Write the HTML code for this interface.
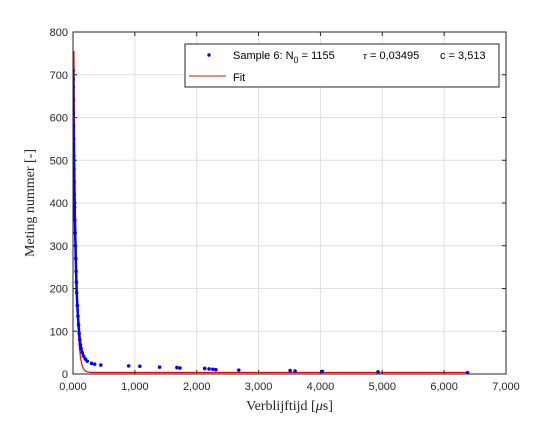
<!DOCTYPE html>
<html><head><meta charset="utf-8"><style>
body{margin:0;background:#fff;width:560px;height:420px;overflow:hidden}
svg{font-family:"Liberation Sans",sans-serif}
</style></head><body>
<svg id="chart" width="560" height="420" xmlns="http://www.w3.org/2000/svg">
<rect width="560" height="420" fill="#fff"/>
<g id="grid"></g>
<g id="series" clip-path="url(#clip)"></g>
<defs><clipPath id="clip"><rect x="73" y="32" width="433" height="342"/></clipPath></defs>
<g id="axes"></g>
<text x="289.5" y="410" text-anchor="middle" font-family="Liberation Serif,serif" font-size="14" fill="#262626">Verblijftijd [<tspan font-style="italic">μ</tspan>s]</text>
<text transform="translate(34,203) rotate(-90)" text-anchor="middle" font-family="Liberation Serif,serif" font-size="14" fill="#262626">Meting nummer [-]</text>
<g>
<rect x="185" y="44" width="314" height="43" fill="#fff" stroke="#262626" stroke-width="1"/>
<circle cx="209" cy="55" r="1.7" fill="#0000ff"/>
<text x="233" y="59" font-size="11" fill="#000">Sample 6: N<tspan dy="4" font-size="9">0</tspan><tspan dy="-4"> = 1155</tspan></text>
<text x="363" y="59" font-size="11" fill="#000"><tspan font-style="italic" font-family="Liberation Serif,serif">τ</tspan> = 0,03495</text>
<text x="440" y="59" font-size="11" fill="#000">c = 3,513</text>
<line x1="189" y1="76" x2="226" y2="76" stroke="#ff0000" stroke-width="1"/>
<text x="233" y="81" font-size="11" fill="#000">Fit</text>
</g>
</svg>
<script>
const xTicks=[0,1000,2000,3000,4000,5000,6000,7000];
const xTickLabels=["0,000","1,000","2,000","3,000","4,000","5,000","6,000","7,000"];
const yTicks=[0,100,200,300,400,500,600,700,800];
const sampleX=[2,3,4,5,6,8,10,12,15,18,20,25,30,35,40,45,50,55,60,70,80,90,100,110,120,130,150,170,200,230,300,350,450,900,1080,1400,1680,1730,2130,2200,2260,2310,2680,3510,3590,4030,4930,6380];
const sampleY=[710,690,670,640,610,580,550,510,480,450,420,390,360,330,300,270,240,215,190,160,135,115,95,80,68,60,50,42,35,30,25,23,21,19,18,16,15,14,13,12,11,10,9,8,7,6,5,3];
const N0=1155, tau=34.95, c=3.513, fitStart=15, fitEnd=6400;
const X=v=>73+v/7000*433, Y=v=>374-v/800*342;
const ns="http://www.w3.org/2000/svg";
function mk(t,a,p){const e=document.createElementNS(ns,t);for(const k in a)e.setAttribute(k,a[k]);p.appendChild(e);return e;}
const grid=document.getElementById('grid'),axes=document.getElementById('axes'),ser=document.getElementById('series');
xTicks.forEach((v,i)=>{
 const gl=mk('line',{x1:X(v),x2:X(v),y1:32,y2:374,stroke:'#dfdfdf','stroke-width':1},grid);
 
 
 mk('line',{x1:X(v),x2:X(v),y1:374,y2:370,stroke:'#262626'},axes);
 mk('line',{x1:X(v),x2:X(v),y1:32,y2:36,stroke:'#262626'},axes);
 const t=mk('text',{x:X(v),y:390,'text-anchor':'middle','font-size':11,fill:'#262626'},axes);
 t.textContent=xTickLabels[i];
 
 
});
yTicks.forEach(v=>{
 const gl=mk('line',{x1:73,x2:506,y1:Y(v),y2:Y(v),stroke:'#dfdfdf','stroke-width':1},grid);
 
 
 mk('line',{x1:73,x2:77,y1:Y(v),y2:Y(v),stroke:'#262626'},axes);
 mk('line',{x1:506,x2:502,y1:Y(v),y2:Y(v),stroke:'#262626'},axes);
 const t=mk('text',{x:68,y:Y(v)+4,'text-anchor':'end','font-size':11,fill:'#262626'},axes);
 t.textContent=v;
 
 
});
const box=mk('rect',{x:73,y:32,width:433,height:342,fill:'none',stroke:'#262626','stroke-width':1},axes);


let d='';
for(let x=fitStart;x<=fitEnd;x+=(x<400?1:20)){const y=N0*Math.exp(-x/tau)+c;d+=(d?'L':'M')+X(x).toFixed(2)+','+Y(Math.min(y,900)).toFixed(2);}
const fit=mk('path',{d:d,fill:'none',stroke:'#ff0000','stroke-width':1.2},ser);


for(let i=0;i<sampleX.length-1;i++){
 if(sampleX[i+1]-sampleX[i]<40){
  const seg=mk('line',{x1:X(sampleX[i]),y1:Y(sampleY[i]),x2:X(sampleX[i+1]),y2:Y(sampleY[i+1]),stroke:'#0000ff','stroke-width':2.5},ser);
  
  
 }
}
sampleX.forEach((x,i)=>{
 const p=mk('circle',{cx:X(x),cy:Y(sampleY[i]),r:1.8,fill:'#0000ff'},ser);
 
 
});
</script>
</body></html>
